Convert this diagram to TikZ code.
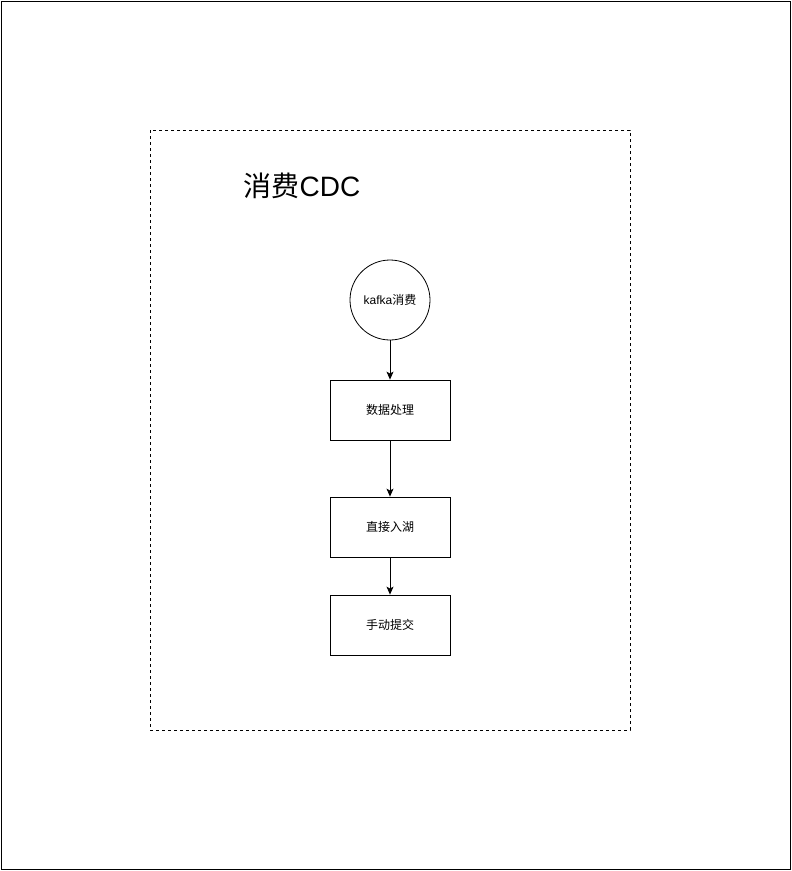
\documentclass[tikz,border=0pt]{standalone}
\usepackage{fontspec}
\setmainfont{Liberation Sans}
\newfontfamily\cjk{Noto Sans CJK SC}
\usetikzlibrary{arrows.meta}
\begin{document}
\begin{tikzpicture}[x=1pt,y=-1pt,
  procbox/.style={draw,line width=0.8pt,minimum width=120pt,minimum height=60pt,inner sep=0pt,font=\cjk\fontsize{12}{14}\selectfont},
  startcirc/.style={draw,circle,line width=0.8pt,minimum size=80pt,inner sep=0pt,font=\fontsize{12}{14}\selectfont},
  flow/.style={line width=0.8pt,-{Stealth[length=8pt,width=7pt,inset=2pt]}}]
\useasboundingbox (0,0) rectangle (792,871);
\draw[line width=1pt] (1,1) rectangle (790,869);
\draw[dashed,line width=0.7pt,dash pattern=on 3pt off 3pt] (150,130) rectangle (630,730);
\node[font=\fontsize{28}{32}\selectfont] (title) at (302,186) {{\cjk 消费}CDC};
\node[startcirc] (c) at (390,300) {kafka{\cjk 消费}};
\node[procbox] (b1) at (390,410) {数据处理};
\node[procbox] (b2) at (390,527) {直接入湖};
\node[procbox] (b3) at (390,625) {手动提交};
\draw[flow] (c) -- (b1);
\draw[flow] (b1) -- (b2);
\draw[flow] (b2) -- (b3);
\end{tikzpicture}
\end{document}
